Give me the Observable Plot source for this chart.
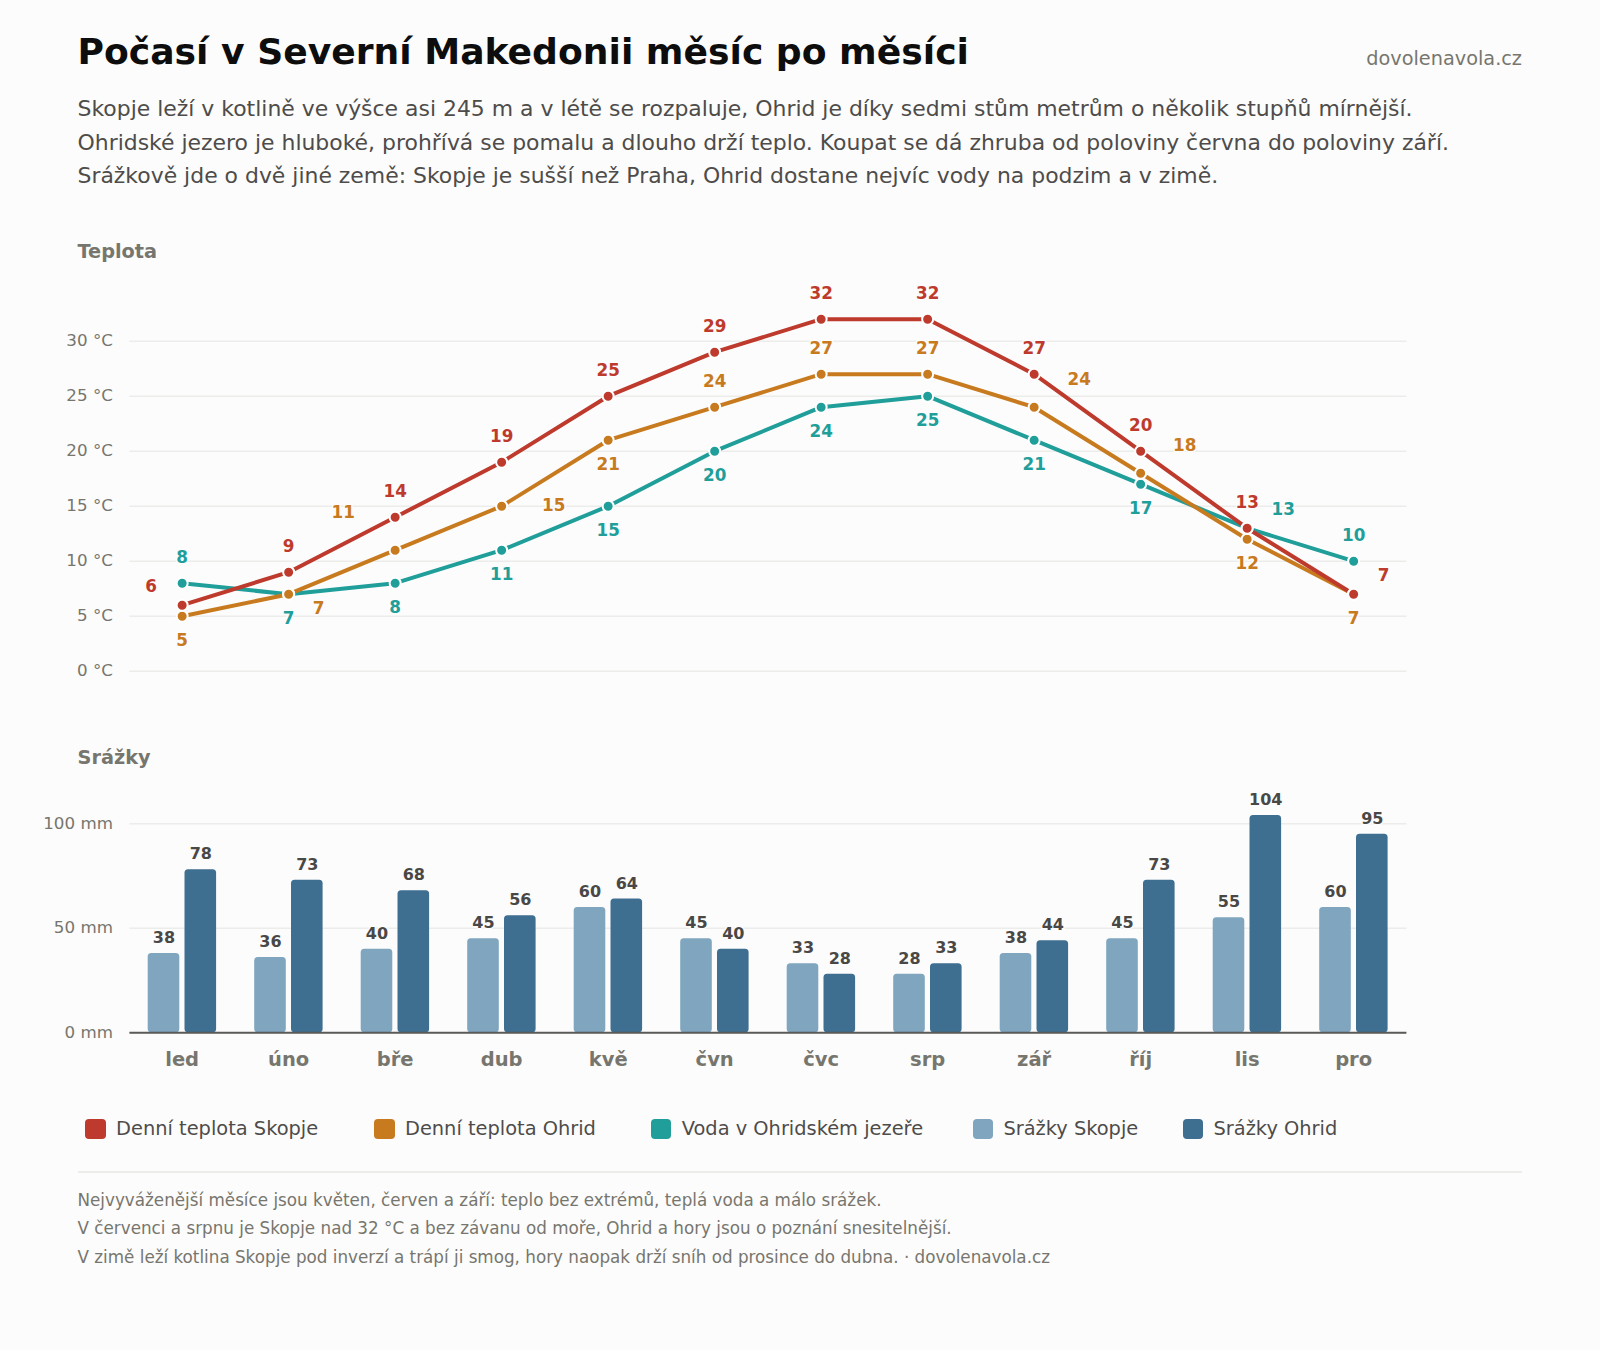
<!DOCTYPE html>
<html lang="cs">
<head>
<meta charset="utf-8">
<script src="https://cdn.jsdelivr.net/npm/d3@7"></script>
<script src="https://cdn.jsdelivr.net/npm/@observablehq/plot@0.6"></script>
<style>
  html, body { margin: 0; padding: 0; background: #fcfcfc; }
  body { width: 1600px; height: 1350px; position: relative; overflow: hidden; font-family: "DejaVu Sans", sans-serif; }
  .abs { position: absolute; white-space: nowrap; }
  #title { left: 77.5px; top: 30px; font-size: 36.14px; line-height: 44px; font-weight: 700; color: #0d0d0d; }
  #brand { right: 78px; top: 47px; font-size: 19.3px; line-height: 24px; color: #77766e; }
  #sub { left: 77.5px; top: 92px; font-size: 21.93px; line-height: 33.5px; color: #4e4c4a; }
  .head { left: 77.5px; font-size: 19.3px; line-height: 24px; font-weight: 700; color: #77766e; }
  #legend { left: 85.3px; top: 1117px; display: flex; font-size: 19.4px; line-height: 24px; color: #4e4c4a; }
  #legend .it { display: flex; align-items: center; }
  #legend i { display: block; width: 20.5px; height: 20.5px; border-radius: 4px; margin-right: 10.3px; }
  #rule { left: 78px; top: 1171px; width: 1444px; height: 1.5px; background: #ececea; }
  #foot { left: 77.5px; top: 1186px; font-size: 16.77px; line-height: 28.4px; color: #77766e; }
  svg { display: block; }
</style>
</head>
<body>
<div class="abs" id="title"></div>
<div class="abs" id="brand"></div>
<div class="abs" id="sub"></div>
<div class="abs head" style="top:240px" id="headT"></div>
<div class="abs" id="tempChart" style="left:0;top:270px"></div>
<div class="abs head" style="top:746px" id="headP"></div>
<div class="abs" id="rainChart" style="left:0;top:780px"></div>
<div class="abs" id="legend"></div>
<div class="abs" id="rule"></div>
<div class="abs" id="foot"></div>
<script>
const titleText = "Počasí v Severní Makedonii měsíc po měsíci";
const brandText = "dovolenavola.cz";
const subtitleLines = [
  "Skopje leží v kotlině ve výšce asi 245 m a v létě se rozpaluje, Ohrid je díky sedmi stům metrům o několik stupňů mírnější.",
  "Ohridské jezero je hluboké, prohřívá se pomalu a dlouho drží teplo. Koupat se dá zhruba od poloviny června do poloviny září.",
  "Srážkově jde o dvě jiné země: Skopje je sušší než Praha, Ohrid dostane nejvíc vody na podzim a v zimě."
];
const footerLines = [
  "Nejvyváženější měsíce jsou květen, červen a září: teplo bez extrémů, teplá voda a málo srážek.",
  "V červenci a srpnu je Skopje nad 32 °C a bez závanu od moře, Ohrid a hory jsou o poznání snesitelnější.",
  "V zimě leží kotlina Skopje pod inverzí a trápí ji smog, hory naopak drží sníh od prosince do dubna. · dovolenavola.cz"
];
const months = ["led","úno","bře","dub","kvě","čvn","čvc","srp","zář","říj","lis","pro"];
const tempSkopje = [6,9,14,19,25,29,32,32,27,20,13,7];
const tempOhrid  = [5,7,11,15,21,24,27,27,24,18,12,7];
const tempWater  = [8,7,8,11,15,20,24,25,21,17,13,10];
const rainSkopje = [38,36,40,45,60,45,33,28,38,45,55,60];
const rainOhrid  = [78,73,68,56,64,40,28,33,44,73,104,95];
const tempTicks = [0,5,10,15,20,25,30];
const rainTicks = [0,50,100];
const legendNames = ["Denní teplota Skopje","Denní teplota Ohrid","Voda v Ohridském jezeře","Srážky Skopje","Srážky Ohrid"];

const COL = { red:"#bd3a2d", orange:"#c87a1e", teal:"#1f9e9a", light:"#7fa5bf", dark:"#3e6e90" };
const BG = "#fcfcfc", GRID = "#ececea", MUTED = "#77766e", INK = "#4a4846";
const FONT = "DejaVu Sans";

// Label placement, kept apart from the values: default offset per series, then exceptions by month.
const UP = [0,-25.5], DOWN = [0,24];
const series = [
  { values: tempWater,  color: COL.teal,   base: DOWN, at: { led: UP, lis: [36,-19], pro: UP } },
  { values: tempOhrid,  color: COL.orange, base: UP,   at: { led: DOWN, "úno": [30,14], "bře": [-52,-38], dub: [52,-1], "kvě": DOWN, "zář": [45,-28], "říj": [44,-28], lis: DOWN, pro: DOWN } },
  { values: tempSkopje, color: COL.red,    base: UP,   at: { led: [-31,-19], pro: [30,-19] } }
];

document.getElementById("title").textContent = titleText;
document.getElementById("brand").textContent = brandText;
document.getElementById("sub").innerHTML = subtitleLines.join("<br>");
document.getElementById("foot").innerHTML = footerLines.join("<br>");
document.getElementById("headT").textContent = "Teplota";
document.getElementById("headP").textContent = "Srážky";
const swatches = [COL.red, COL.orange, COL.teal, COL.light, COL.dark];
const legendGaps = [56, 55, 49.5, 44.5, 0];
document.getElementById("legend").innerHTML = legendNames
  .map((n,i) => `<span class="it" style="margin-right:${legendGaps[i]}px"><i style="background:${swatches[i]}"></i>${n}</span>`).join("");

const X_LEFT = 128.4, X_RIGHT = 193.6;
const lineMarks = series.map(s => Plot.line(months.map((m,i)=>({m, v:s.values[i]})), {
  x:"m", y:"v", stroke:s.color, strokeWidth:4, curve:"linear"
}));
const dotMarks = series.map(s => Plot.dot(months.map((m,i)=>({m, v:s.values[i]})), {
  x:"m", y:"v", fill:s.color, stroke:"#fff", strokeWidth:2, r:5.5
}));
const labelMarks = series.flatMap(s => {
  const groups = d3.group(months.map((m,i)=>({m, v:s.values[i], off:s.at[m] || s.base})), d => d.off.join());
  return [...groups.values()].map(g => Plot.text(g, {
    x:"m", y:"v", text:d=>String(d.v), dx:g[0].off[0], dy:g[0].off[1],
    fill:s.color, stroke:BG, strokeWidth:3, fontSize:16.8, fontWeight:700, fontFamily:FONT
  }));
});

const tempPlot = Plot.plot({
  width:1600, height:420, marginLeft:X_LEFT, marginRight:X_RIGHT, marginTop:15.7, marginBottom:19.3,
  style:{background:"transparent", fontFamily:FONT, overflow:"visible"},
  x:{type:"band", domain:months, padding:0, round:false, axis:null},
  y:{domain:[0,35]},
  marks:[
    Plot.ruleY(tempTicks, {stroke:GRID, strokeWidth:1.5, insetLeft:1}),
    Plot.axisY({ticks:tempTicks, tickSize:0, tickPadding:16, dy:-1, tickFormat:d=>d+" °C", fontSize:16.7, fill:MUTED, label:null}),
    ...lineMarks, ...dotMarks, ...labelMarks
  ]
});
document.getElementById("tempChart").append(tempPlot);

const rowsSkopje = months.map((m,i)=>({m, v:rainSkopje[i]}));
const rowsOhrid  = months.map((m,i)=>({m, v:rainOhrid[i]}));
const rainLabel = {x:"m", y:"v", text:d=>String(d.v), fill:INK, stroke:BG, strokeWidth:3, fontSize:16, fontWeight:700, fontFamily:FONT};
const rainPlot = Plot.plot({
  width:1600, height:300, marginLeft:X_LEFT, marginRight:X_RIGHT, marginTop:1.5, marginBottom:47.7,
  style:{background:"transparent", fontFamily:FONT, overflow:"visible"},
  x:{type:"band", domain:months, padding:0, round:false, label:null},
  y:{domain:[0,120]},
  marks:[
    Plot.ruleY(rainTicks, {stroke:GRID, strokeWidth:1.5, insetLeft:1}),
    Plot.axisY({ticks:rainTicks, tickSize:0, tickPadding:16, dy:-0.5, tickFormat:d=>d+" mm", fontSize:16.7, fill:MUTED, label:null}),
    Plot.axisX({tickSize:0, tickPadding:19, fontSize:19.5, fontWeight:700, fill:MUTED, label:null}),
    Plot.barY(rowsSkopje, {x:"m", y:"v", fill:COL.light, rx:3.5, insetLeft:19.3, insetRight:55.6}),
    Plot.barY(rowsOhrid,  {x:"m", y:"v", fill:COL.dark,  rx:3.5, insetLeft:56.1, insetRight:18.8}),
    Plot.ruleY([0], {stroke:"#5a5a58", strokeWidth:2, insetLeft:1}),
    Plot.text(rowsSkopje, {...rainLabel, dx:-18.2, dy:-15.5}),
    Plot.text(rowsOhrid,  {...rainLabel, dx:18.6,  dy:-15.5})
  ]
});
document.getElementById("rainChart").append(rainPlot);
</script>
</body>
</html>
